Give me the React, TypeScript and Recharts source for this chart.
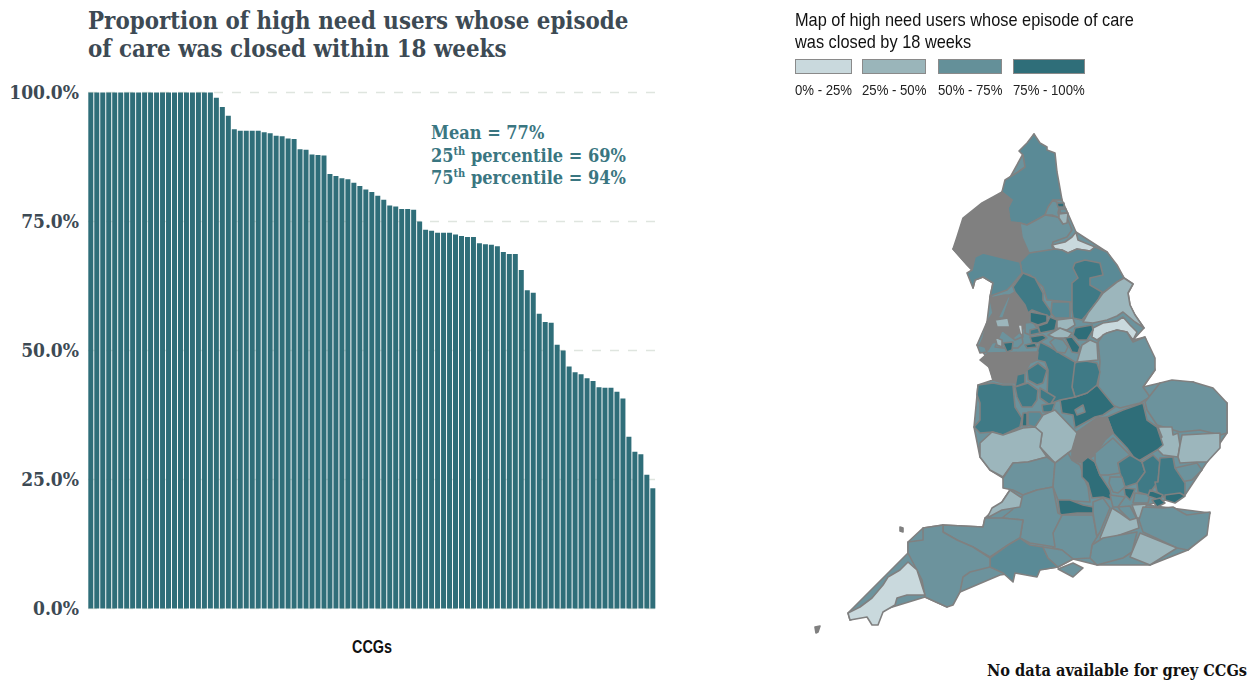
import React from "react";
import { BarChart, Bar, XAxis, YAxis, CartesianGrid, ScatterChart, Scatter } from "recharts";

// ---------- data ----------
const closedShare = [
  100,100,100,100,100,100,100,100,100,100,100,100,100,100,100,100,100,100,100,100,100,
  99.0,97.2,95.5,92.9,92.6,92.6,92.6,92.6,92.3,92.1,91.6,91.5,91.1,91.0,89.0,88.9,88.0,87.9,87.8,
  84.2,83.8,83.4,83.2,82.5,81.9,81.2,80.7,80.0,79.2,78.1,77.9,77.4,77.4,77.3,75.0,
  73.4,73.2,72.8,72.8,72.8,72.5,72.2,72.0,72.0,70.8,70.6,70.5,70.2,69.1,68.7,68.7,
  65.6,61.7,61.2,57.1,55.5,55.4,51.1,50.0,46.9,45.8,45.4,44.6,44.1,42.9,42.8,42.8,42.0,40.7,
  33.3,30.4,29.9,25.9,23.3,
];
const ccgRows = closedShare.map((v, i) => ({ ccg: `CCG ${i + 1}`, share: v }));
const yTicks = [0, 25, 50, 75, 100];
const bandLabels = ["0% - 25%", "25% - 50%", "50% - 75%", "75% - 100%"];

// band: 0-3 = legend bands, 4 = no data, 5/6 = in-between shades of the 50-75 and 75-100 classes
type Region = [number, number[]];
const mapRegions: Region[] = [
  [2,[1034,134,1062,200,1076,232,1107,252,1124,278,1133,284,1128,293,1130,305,1135,315,1144,328,1133,340,1145,337,1155,370,1143,387,1160,383,1193,382,1227,403,1227,433,1207,462,1185,495,1147,505,1210,513,1188,550,1150,565,1097,565,1073,559,1058,567,1000,575,960,592,947,607,925,597,850,620,848,613,908,553,908,542,923,528,943,525,983,527,985,518,1002,502,1010,490,1003,478,990,470,980,457,974,427,978,385,993,380,985,355,977,345,987,322,990,297,993,283,983,277,975,280,973,288,972,270,953,249,1002,192]],
  [5,[1034,134,1040,143,1047,147,1047,150,1055,153,1057,172,1059,183,1062,200,1053,200,1045,215,1040,218,1027,225,1020,223,1010,222,1008,208,1012,200,1002,192,1005,180,1018,172,1025,167,1023,155,1019,151,1027,143]],
  [4,[1002,192,1012,200,1008,208,1010,222,1020,223,1022,237,1029,253,1020,262,1003,258,983,253,975,262,972,270,967,265,953,249,957,237,963,218,973,210,982,203,993,197]],
  [2,[1020,223,1027,225,1040,218,1045,215,1058,217,1063,224,1068,220,1072,230,1067,237,1053,242,1052,247,1055,249,1042,252,1029,253,1022,237]],
  [2,[1053,200,1060,204,1058,213,1060,218,1052,215,1045,215,1048,207]],
  [3,[1057,203,1064,203,1064,207,1058,207]],
  [2,[1060,209,1066,209,1067,213,1060,213]],
  [1,[1059,214,1068,213,1067,223,1063,224,1059,218]],
  [0,[1052,245,1065,242,1072,237,1076,232,1078,240,1095,247,1090,251,1077,249,1068,253,1062,250,1055,249]],
  [5,[1020,262,1029,253,1055,249,1062,250,1068,253,1077,249,1090,251,1095,247,1107,252,1117,265,1124,278,1117,282,1103,293,1100,298,1103,303,1080,303,1072,302,1047,300,1043,287,1030,275,1022,273]],
  [6,[1075,263,1085,260,1100,263,1103,275,1090,278,1090,285,1102,292,1098,300,1088,313,1082,320,1073,318,1072,310,1072,283,1078,278,1073,268]],
  [1,[1117,282,1124,278,1133,284,1128,293,1130,305,1135,315,1144,328,1135,322,1123,312,1117,316,1107,320,1093,323,1083,322,1088,313,1098,300,1103,293]],
  [0,[1093,328,1103,323,1117,321,1123,317,1130,325,1137,332,1133,340,1127,332,1117,330,1107,333,1097,340,1092,337]],
  [2,[1103,335,1107,333,1117,330,1127,332,1133,342,1145,337,1155,358,1155,370,1143,387,1150,397,1140,403,1120,408,1107,403,1098,388,1100,362,1098,342]],
  [2,[1145,402,1160,383,1172,380,1193,382,1213,388,1227,403,1227,433,1220,435,1200,430,1180,432,1157,425,1147,410]],
  [1,[1158,427,1172,427,1173,435,1178,433,1180,445,1178,457,1163,455,1158,450,1157,440,1162,437]],
  [1,[1182,435,1220,433,1220,448,1207,462,1197,462,1180,463,1178,457,1180,445]],
  [2,[1175,468,1197,463,1202,470,1192,480,1180,482,1175,475]],
  [3,[1107,417,1123,410,1143,403,1147,420,1157,427,1163,445,1157,450,1137,462,1127,448,1113,433]],
  [4,[1072,450,1077,432,1097,418,1107,417,1113,433,1105,440,1095,455,1082,463,1072,460]],
  [3,[1060,400,1075,397,1087,393,1097,385,1115,407,1103,415,1095,417,1075,428,1073,415,1062,413]],
  [2,[1075,410,1083,405,1085,412,1077,415]],
  [6,[1072,365,1080,360,1097,363,1100,372,1097,385,1087,393,1075,397,1072,387]],
  [1,[1077,362,1082,345,1090,340,1097,343,1098,360,1088,361]],
  [6,[1037,353,1040,342,1050,347,1063,355,1075,362,1072,387,1075,397,1060,400,1052,403,1047,397,1048,370,1045,362,1037,360]],
  [4,[988,353,1038,352,1037,360,1030,363,1025,372,1018,375,1015,383,1003,383,993,380,990,368,980,360]],
  [4,[990,298,1005,295,1010,295,1015,292,1025,305,1029,315,1028,323,1022,330,1013,338,992,343,988,350,980,345,983,338,987,322,993,313]],
  [2,[1008,297,1011,295,1003,318,998,318]],
  [1,[995,320,1008,318,1010,327,997,327]],
  [2,[1002,330,1015,340,1022,337,1023,343,1018,348,1003,348,995,347]],
  [0,[1018,325,1022,325,1023,337,1020,333]],
  [3,[1003,343,1013,342,1012,350,1007,352]],
  [2,[977,345,985,347,987,352,980,353]],
  [1,[995,337,1002,340,1002,347,997,345]],
  [2,[1025,323,1033,322,1037,328,1030,335,1025,333]],
  [5,[972,270,975,257,983,253,1003,258,1020,262,1022,273,1012,285,1007,290,993,295,990,297,993,283,983,277,975,280,973,288,967,273]],
  [6,[1013,287,1023,273,1035,278,1043,293,1043,300,1052,313,1050,317,1040,313,1032,310,1028,313,1025,305,1015,292]],
  [5,[1052,302,1070,302,1070,318,1055,318,1051,313]],
  [3,[1030,312,1047,315,1047,322,1038,325,1030,322]],
  [3,[1050,317,1057,320,1055,330,1040,333,1038,326,1047,323]],
  [1,[1057,320,1073,318,1075,325,1067,330,1057,328]],
  [1,[1048,335,1060,328,1072,333,1068,338,1055,338]],
  [3,[1075,328,1092,325,1093,330,1087,340,1078,340,1073,335]],
  [3,[1030,337,1043,335,1047,338,1038,343,1032,343]],
  [3,[1025,345,1035,343,1037,347,1027,348]],
  [6,[1030,330,1038,328,1040,333,1030,335]],
  [2,[1050,342,1055,338,1063,340,1068,347,1065,353,1057,352]],
  [3,[1065,338,1072,337,1080,347,1078,353,1072,352]],
  [6,[978,385,993,383,1003,385,1013,385,1015,407,1022,418,1020,427,1003,435,993,432,980,433,974,427,980,420,980,403,977,395]],
  [6,[1027,370,1038,363,1047,370,1043,383,1037,385,1028,380]],
  [6,[1017,375,1025,373,1025,383,1015,387]],
  [6,[1015,387,1028,383,1038,390,1037,400,1032,407,1022,407,1017,397]],
  [6,[1040,388,1055,397,1050,405,1040,398]],
  [6,[1042,405,1055,403,1052,412,1043,412]],
  [5,[1028,412,1040,412,1043,417,1035,427,1028,425]],
  [3,[1023,413,1027,413,1027,426,1022,426]],
  [1,[1043,415,1055,410,1077,433,1072,450,1068,453,1060,463,1055,463,1040,447,1042,433,1035,427]],
  [1,[980,443,992,432,1003,435,1023,428,1035,427,1042,433,1040,447,1047,457,1028,462,1013,463,1003,477,990,470,980,457]],
  [2,[1003,478,1013,463,1028,462,1047,457,1055,463,1053,487,1037,490,1023,495,1013,490,1003,488]],
  [2,[1055,463,1068,453,1072,460,1080,465,1085,480,1088,487,1090,502,1058,500,1053,487]],
  [3,[1082,462,1088,457,1095,462,1100,475,1110,490,1112,500,1103,497,1092,498,1088,483,1082,477]],
  [3,[1058,500,1070,500,1083,505,1093,507,1096,513,1077,513,1060,515]],
  [2,[1095,453,1113,438,1130,455,1118,463,1120,473,1108,475,1100,475,1095,462]],
  [6,[1118,463,1130,455,1142,462,1145,472,1137,483,1125,487,1120,473]],
  [6,[1142,462,1153,455,1160,462,1158,482,1148,495,1138,492,1137,483,1145,472]],
  [6,[1160,458,1173,457,1175,468,1185,483,1185,495,1165,498,1157,492,1155,482,1158,482]],
  [2,[1110,477,1122,477,1125,487,1118,493,1113,492,1109,483]],
  [3,[1124,488,1135,489,1130,500,1125,495]],
  [2,[1110,495,1125,497,1118,507,1113,507]],
  [2,[1135,493,1150,495,1148,503,1133,503]],
  [3,[1150,490,1163,495,1160,500,1148,496]],
  [3,[1152,500,1160,498,1165,503,1157,507]],
  [3,[1165,495,1180,493,1185,496,1175,503,1165,500]],
  [2,[1118,507,1130,506,1137,519,1130,520,1120,510]],
  [1,[1132,505,1147,504,1140,518,1137,518]],
  [1,[1112,508,1120,513,1130,520,1137,518,1139,528,1103,541,1100,538]],
  [2,[1143,507,1163,508,1173,507,1183,513,1187,515,1210,512,1207,535,1188,550,1177,548,1143,532,1139,520]],
  [2,[1092,545,1103,538,1137,532,1132,552,1123,558,1097,565,1090,558]],
  [1,[1140,533,1177,548,1150,565,1130,557]],
  [2,[1062,515,1093,515,1097,537,1092,545,1090,558,1073,559,1062,550,1053,548,1053,533]],
  [2,[1093,502,1103,498,1110,508,1100,532,1097,537,1093,513]],
  [2,[1023,495,1037,490,1053,487,1058,513,1062,515,1053,533,1055,547,1030,543,1020,538,1023,520,1002,518,1012,510]],
  [1,[1010,490,1022,498,1020,507,1002,510,987,518,992,508,1002,502]],
  [2,[943,525,983,527,985,518,1002,518,1023,520,1020,538,1008,545,990,557,973,547,957,540,943,532]],
  [5,[990,558,1008,545,1020,538,1030,545,1043,547,1048,558,1058,567,1040,570,1037,577,1015,573,1013,582,1003,573,990,567]],
  [2,[1043,547,1062,550,1073,559,1058,567,1048,558]],
  [2,[1058,569,1073,563,1083,568,1073,577]],
  [2,[923,528,943,525,943,532,957,540,973,547,990,558,990,567,970,572,963,577,960,592,953,605,947,607,925,597,922,580,908,553,908,542,923,540]],
  [0,[908,562,917,570,925,595,907,595,897,598,895,605,883,612,878,625,872,625,867,617,850,620,848,613,860,607,872,598,883,585,888,577,900,570]],
  [4,[900,527,903,528,903,532,900,531]],
  [4,[815,627,820,626,818,632,816,633]],
];
const mapPoints = mapRegions.map(([band, outline]) => ({ x: outline[0], y: outline[1], band, outline }));

// ---------- style ----------
const BAR = "#2f6e79";
const SERIF = "'DejaVu Serif Condensed', 'DejaVu Serif', serif";
const NARROW = "'Liberation Sans', sans-serif";
const bandFill = ["#c9d9dd", "#9cb6bc", "#6c939d", "#2f6e79", "#808080", "#5a8a96", "#3f7a86"];
const legendFill = ["#c9d9dd", "#9ab5ba", "#649099", "#2f6e79"];
const MAP_W = 470, MAP_H = 682, MAP_X0 = 780, MAP_K = 1;

const RegionShape = (p: any) => {
  const { cx, cy, payload } = p;
  const o: number[] = payload.outline;
  const pts: string[] = [];
  for (let i = 0; i < o.length; i += 2) {
    pts.push(`${cx + (o[i] - o[0]) * MAP_K},${cy + (o[i + 1] - o[1]) * MAP_K}`);
  }
  return <polygon points={pts.join(" ")} fill={bandFill[payload.band]} stroke="#808080" strokeWidth={1.6} strokeLinejoin="round" />;
};

const CcgLabel = (p: any) => {
  const { x, y, width } = p.viewBox;
  return (
    <text x={x + width / 2} y={y + 44} textAnchor="middle" textLength={40} lengthAdjust="spacingAndGlyphs"
      fontFamily={NARROW} fontWeight={700} fontSize={18} fill="#111">CCGs</text>
  );
};

const abs = (left: number, top: number, extra: React.CSSProperties = {}): React.CSSProperties => ({
  position: "absolute", left, top, whiteSpace: "nowrap", ...extra,
});

export default function App() {
  return (
    <div style={{ position: "absolute", left: 0, top: 0, width: 1250, height: 682, background: "#fff", overflow: "hidden" }}>
      <div style={abs(88, 8, { fontFamily: SERIF, fontWeight: 700, fontSize: 23.8, lineHeight: "27.8px", color: "#3d4a54" })}>
        Proportion of high need users whose episode<br />of care was closed within 18 weeks
      </div>

      <div style={{ position: "absolute", left: 0, top: 0 }}>
        <BarChart width={680} height={682} data={ccgRows} margin={{ top: 92.5, right: 24, bottom: 0, left: 0 }} barCategoryGap="5%">
          <CartesianGrid vertical={false} stroke="#dfe5df" strokeDasharray="9 9" strokeWidth={1.5} />
          <XAxis dataKey="ccg" tick={false} tickLine={false} axisLine={false} height={73.5} label={<CcgLabel />} />
          <YAxis
            width={88} domain={[0, 100]} ticks={yTicks} tickLine={false} axisLine={false} tickMargin={3} interval={0}
            tickFormatter={(v: number) => `${v.toFixed(1)}%`}
            tick={{ fill: "#3d4a54", fontFamily: SERIF, fontWeight: 700, fontSize: 19 }}
          />
          <Bar dataKey="share" fill={BAR} isAnimationActive={false} />
        </BarChart>
      </div>

      <div style={abs(431, 122, { fontFamily: SERIF, fontWeight: 700, fontSize: 18, lineHeight: "22.5px", color: "#3a7681" })}>
        Mean = 77%<br />
        25<sup style={{ fontSize: 11, lineHeight: 0, fontWeight: 700 }}>th</sup> percentile = 69%<br />
        75<sup style={{ fontSize: 11, lineHeight: 0, fontWeight: 700 }}>th</sup> percentile = 94%
      </div>

      <div style={{ position: "absolute", left: MAP_X0, top: 0, filter: "blur(0.5px)" }}>
        <ScatterChart width={MAP_W} height={MAP_H} margin={{ top: 0, right: 0, bottom: 0, left: 0 }}>
          <XAxis type="number" dataKey="x" domain={[MAP_X0, MAP_X0 + MAP_W]} hide />
          <YAxis type="number" dataKey="y" domain={[0, MAP_H]} reversed hide />
          <Scatter data={mapPoints} shape={RegionShape} isAnimationActive={false} />
        </ScatterChart>
      </div>

      <div style={abs(795, 9, { fontFamily: NARROW, fontSize: 19, lineHeight: "22px", color: "#111", transform: "scaleX(0.86)", transformOrigin: "left top" })}>
        Map of high need users whose episode of care<br />was closed by 18 weeks
      </div>
      {bandLabels.map((label, i) => {
        const lefts = [795, 862, 938, 1013];
        const widths = [57, 64, 64, 72];
        return (
          <React.Fragment key={label}>
            <div style={abs(lefts[i], 59, { width: widths[i], height: 15, boxSizing: "border-box", background: legendFill[i], border: "1.5px solid #8a8a8a" })} />
            <div style={abs(lefts[i], 82, { fontFamily: NARROW, fontSize: 14, lineHeight: "16px", color: "#222", transform: "scaleX(0.94)", transformOrigin: "left top" })}>{label}</div>
          </React.Fragment>
        );
      })}
      <div style={abs(987, 661, { fontFamily: SERIF, fontWeight: 700, fontSize: 16.2, lineHeight: "20px", color: "#111" })}>
        No data available for grey CCGs
      </div>
    </div>
  );
}
